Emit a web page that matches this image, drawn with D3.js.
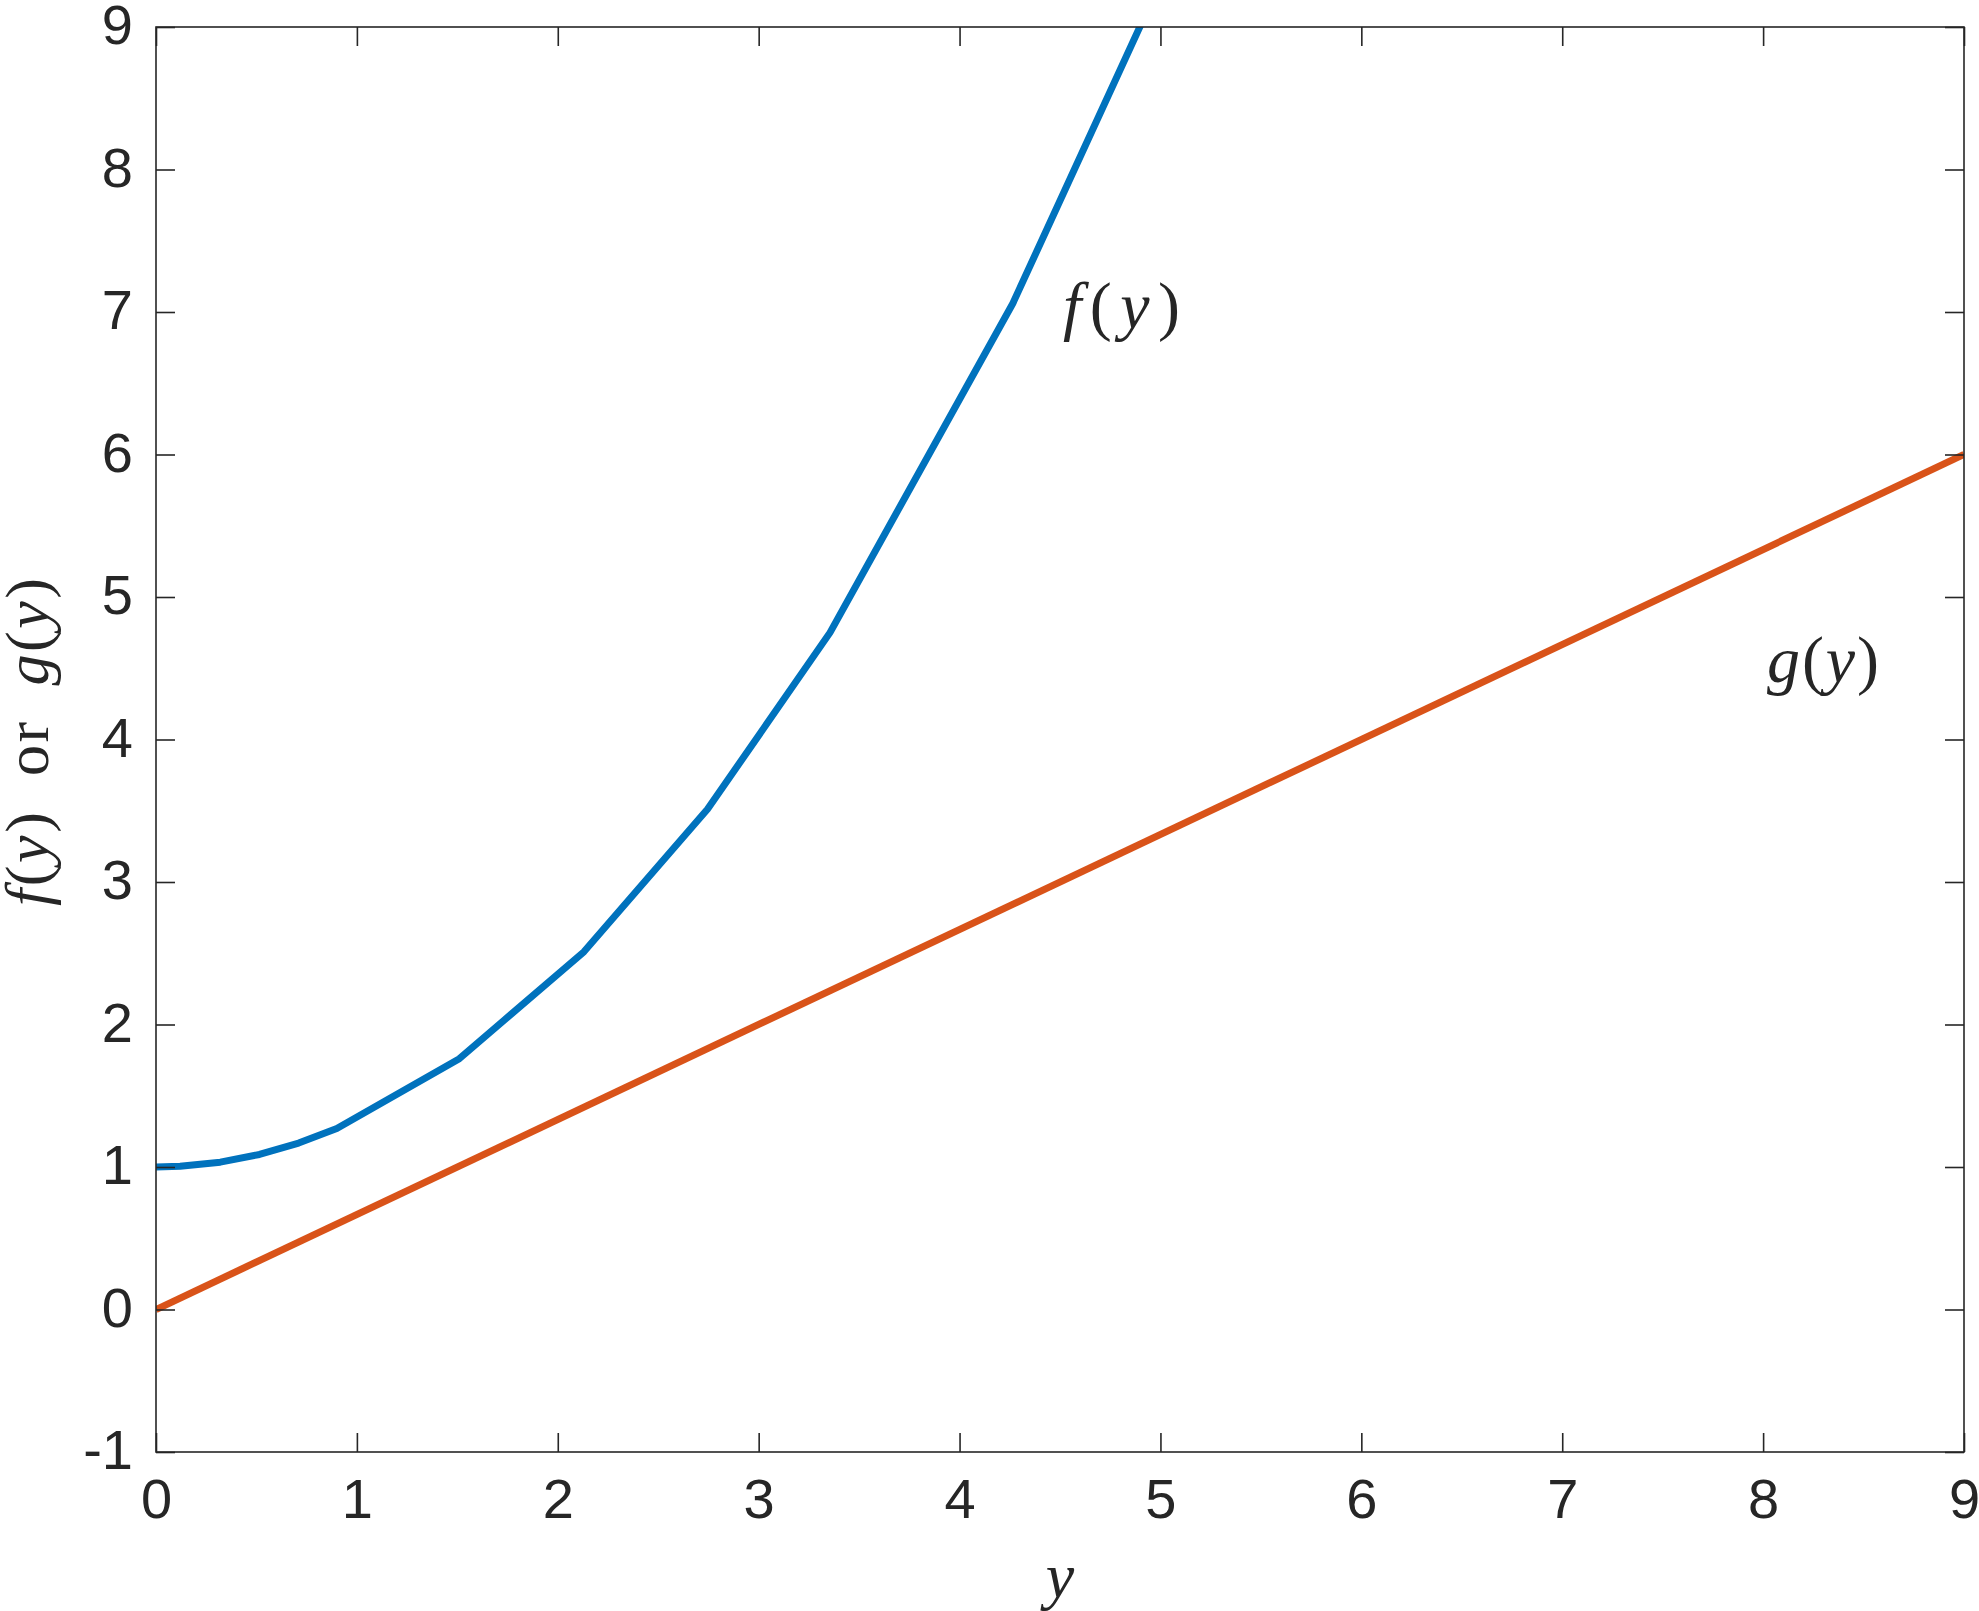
<!DOCTYPE html>
<html>
<head>
<meta charset="utf-8">
<script src="https://cdn.jsdelivr.net/npm/d3@7"></script>
<style>
html,body{margin:0;padding:0;background:#fff;}
svg{display:block;}
</style>
</head>
<body>
<svg id="chart" width="1979" height="1611"></svg>
<script>
// ---- data ----
const fY = [0, 0.12, 0.32, 0.515, 0.71, 0.9, 1.51, 2.13, 2.745, 3.355, 4.265, 4.92];
const fVal = [1.0, 1.005, 1.034, 1.088, 1.168, 1.27, 1.76, 2.51, 3.51, 4.75, 7.06, 9.07];
const gY = [0, 9];
const gVal = [0, 6];
const xTicks = [0, 1, 2, 3, 4, 5, 6, 7, 8, 9];
const yTicks = [-1, 0, 1, 2, 3, 4, 5, 6, 7, 8, 9];

const margin = {left: 156, right: 15, top: 27, bottom: 159};
const W = 1979, H = 1611;
const svg = d3.select("#chart");
const x = d3.scaleLinear().domain([0, 9]).range([margin.left, W - margin.right]);
const y = d3.scaleLinear().domain([-1, 9]).range([H - margin.bottom, margin.top]);

const axisColor = "#262626";
const tickFont = "'Liberation Sans', Arial, Helvetica, sans-serif";
const serif = "'Liberation Serif', 'Times New Roman', serif";

svg.append("defs").append("clipPath").attr("id", "clip")
  .append("rect").attr("x", x(0)).attr("y", y(9)).attr("width", x(9) - x(0)).attr("height", y(-1) - y(9));

const line = d3.line().x(d => x(d[0])).y(d => y(d[1]));
const plot = svg.append("g").attr("clip-path", "url(#clip)");
plot.append("path").datum(fY.map((v, i) => [v, fVal[i]]))
  .attr("d", line).attr("fill", "none").attr("stroke", "#0072BD").attr("stroke-width", 7)
  .attr("stroke-linejoin", "round");
plot.append("path").datum(gY.map((v, i) => [v, gVal[i]]))
  .attr("d", line).attr("fill", "none").attr("stroke", "#D95319").attr("stroke-width", 7)
  .attr("stroke-linejoin", "round");

// axes (ticks inside, on all four sides)
const tl = 19;
const fmt = d => String(d);
function styleAxis(g) {
  g.select(".domain").remove();
  g.selectAll(".tick line").attr("stroke", axisColor).attr("stroke-width", 1.6);
  g.selectAll(".tick text").attr("fill", axisColor).style("font-family", tickFont).style("font-size", "56px");
}
svg.append("g").attr("transform", `translate(0,${y(-1)})`)
  .call(d3.axisBottom(x).tickValues(xTicks).tickSize(-tl).tickPadding(26).tickFormat(fmt))
  .call(styleAxis)
  .call(g => g.selectAll(".tick text").attr("dy", "0.72em"));
svg.append("g").attr("transform", `translate(0,${y(9)})`)
  .call(d3.axisTop(x).tickValues(xTicks).tickSize(-tl).tickFormat(""))
  .call(styleAxis);
svg.append("g").attr("transform", `translate(${x(0)},0)`)
  .call(d3.axisLeft(y).tickValues(yTicks).tickSize(-tl).tickPadding(23).tickFormat(fmt))
  .call(styleAxis)
  .call(g => g.selectAll(".tick text").attr("dy", "0.30em"));
svg.append("g").attr("transform", `translate(${x(9)},0)`)
  .call(d3.axisRight(y).tickValues(yTicks).tickSize(-tl).tickFormat(""))
  .call(styleAxis);

svg.append("rect").attr("x", x(0)).attr("y", y(9)).attr("width", x(9) - x(0)).attr("height", y(-1) - y(9))
  .attr("fill", "none").attr("stroke", axisColor).attr("stroke-width", 1.6);

// math-style labels
function mathText(parent, parts, attrs) {
  const t = parent.append("text").style("font-family", serif).attr("fill", axisColor);
  Object.entries(attrs).forEach(([k, v]) => t.attr(k, v));
  parts.forEach(p => t.append("tspan").text(p[0]).style("font-style", p[1] ? "italic" : "normal"));
  return t;
}
mathText(svg, [["f", 1], ["(", 0], ["y", 1], [")", 0]],
  {x: 1063, y: 328, "font-size": 66, textLength: 117, lengthAdjust: "spacing"});
mathText(svg, [["g", 1], ["(", 0], ["y", 1], [")", 0]],
  {x: 1767, y: 682, "font-size": 66, textLength: 112, lengthAdjust: "spacing"});
mathText(svg, [["y", 1]],
  {x: 1060, y: 1597, "font-size": 64, "text-anchor": "middle"});
mathText(svg, [["f", 1], ["(", 0], ["y", 1], [")", 0], ["\u2002or\u2002", 0], ["g", 1], ["(", 0], ["y", 1], [")", 0]],
  {x: 0, y: 0, "font-size": 62, "text-anchor": "middle", textLength: 328, lengthAdjust: "spacing",
   transform: "translate(48,742) rotate(-90)"});
</script>
</body>
</html>
